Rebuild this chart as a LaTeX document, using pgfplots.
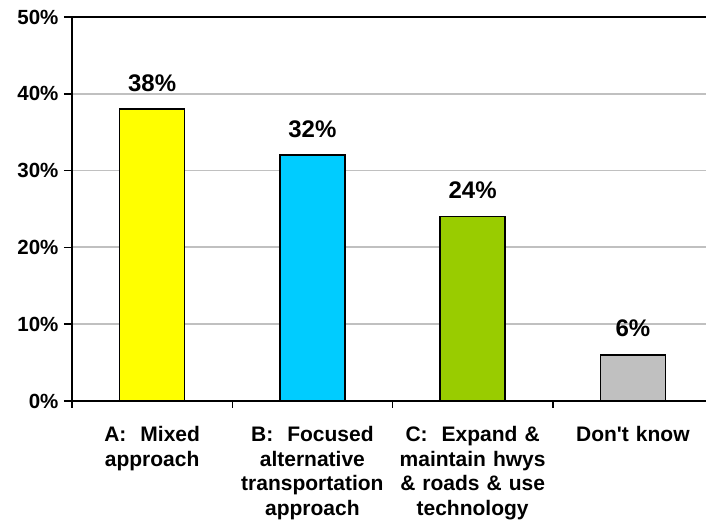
\documentclass[border=0pt]{standalone}
\usepackage{fontspec}
\setmainfont{Liberation Sans}[Ligatures=TeXOff]
\usepackage{pgfplots}
\pgfplotsset{compat=1.18}
\definecolor{barYellow}{HTML}{FFFF00}
\definecolor{barCyan}{HTML}{00CCFF}
\definecolor{barGreen}{HTML}{99CC00}
\definecolor{barGray}{HTML}{C0C0C0}
\definecolor{gridGray}{HTML}{C0C0C0}

\begin{document}
\begin{tikzpicture}[x=1pt,y=1pt]
\useasboundingbox (-72,-128) rectangle (634,401);
\begin{axis}[
  at={(0,0)}, anchor=south west,
  scale only axis, width=641pt, height=384pt,
  xmin=-0.5, xmax=3.5, ymin=0, ymax=50,
  ybar, bar width=65pt, bar shift=0pt,
  axis line style={black, line width=2pt},
  tick pos=left, tick align=outside,
  xtick={0,1,2,3},
  xticklabels={{A:\ \ Mixed\\approach},
               {B:\ \ Focused\\alternative\\transportation\\approach},
               {C:\ \ Expand \&\\maintain hwys\\\& roads \& use\\technology},
               {Don't know}},
  major x tick style={draw=none},
  minor xtick={-0.5,0.5,1.5,2.5,3.5},
  minor tick length=7pt,
  minor x tick style={black, line width=1.5pt},
  xticklabel style={font=\fontsize{21}{24.5}\selectfont\bfseries,
                    align=center, text width=170pt, anchor=north, yshift=-14pt},
  ytick={0,10,...,50},
  yticklabel={\pgfmathprintnumber{\tick}\%},
  major tick length=8pt,
  major y tick style={black, line width=1.5pt},
  yticklabel style={font=\fontsize{20.5}{24}\selectfont\bfseries, xshift=-2pt},
  /pgf/number format/assume math mode=true,
  ymajorgrids, grid style={gridGray, line width=1.8pt},
  nodes near coords={\pgfmathprintnumber{\pgfplotspointmeta}\%},
  every node near coord/.append style={font=\fontsize{24}{28}\selectfont\bfseries,
                                       black, anchor=base, yshift=18pt},
  every axis plot/.append style={draw=black, line width=1.5pt},
]
\addplot[fill=barYellow] coordinates {(0,38)};
\addplot[fill=barCyan]   coordinates {(1,32)};
\addplot[fill=barGreen]  coordinates {(2,24)};
\addplot[fill=barGray]   coordinates {(3,6)};
\end{axis}
\end{tikzpicture}
\end{document}
